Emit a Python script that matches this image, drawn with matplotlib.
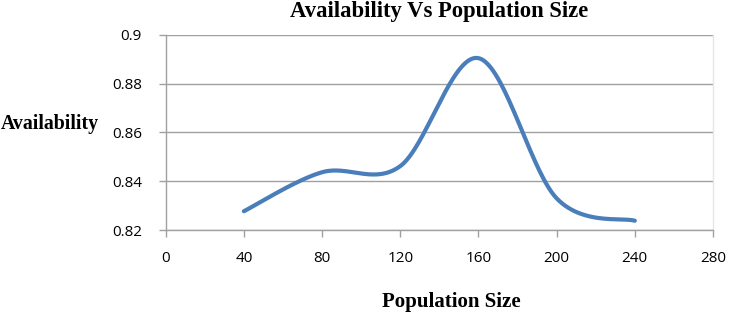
import numpy as np
import matplotlib
matplotlib.use("Agg")
import matplotlib.pyplot as plt

# Data
population_size = [40, 80, 120, 160, 200, 240]
availability = [0.8277, 0.8437, 0.8462, 0.8905, 0.8330, 0.8238]
x_ticks = [0, 40, 80, 120, 160, 200, 240, 280]
y_ticks = [0.82, 0.84, 0.86, 0.88, 0.9]
y_tick_labels = ["0.82", "0.84", "0.86", "0.88", "0.9"]


def smooth_curve(xs, ys, n=60):
    """Excel-like smoothed line: cubic Bezier with Catmull-Rom control points."""
    xs = np.asarray(xs, float)
    ys = np.asarray(ys, float)
    pts = np.column_stack([xs, ys])
    out = []
    m = len(pts)
    for i in range(m - 1):
        p0 = pts[i - 1] if i > 0 else pts[i]
        p1 = pts[i]
        p2 = pts[i + 1]
        p3 = pts[i + 2] if i + 2 < m else pts[i + 1]
        c1 = p1 + (p2 - p0) / 6.0
        c2 = p2 - (p3 - p1) / 6.0
        t = np.linspace(0, 1, n)[:, None]
        seg = ((1 - t) ** 3) * p1 + 3 * ((1 - t) ** 2) * t * c1 + 3 * (1 - t) * t ** 2 * c2 + t ** 3 * p2
        out.append(seg if i == 0 else seg[1:])
    arr = np.vstack(out)
    return arr[:, 0], arr[:, 1]


fig = plt.figure(figsize=(7.3, 3.2), dpi=100)
ax = fig.add_axes([0.227, 0.28125, 0.7497, 0.6094])

sx, sy = smooth_curve(population_size, availability)
ax.plot(sx, sy, color="#4a7ebb", linewidth=3.0, solid_capstyle="round", zorder=3)

ax.set_xlim(0, 280)
ax.set_ylim(0.82, 0.9)
ax.set_xticks(x_ticks)
ax.set_xticklabels([str(v) for v in x_ticks])
ax.set_yticks(y_ticks)
ax.set_yticklabels(y_tick_labels)

grid_color = "#a0a0a0"
ax.yaxis.grid(True, color=grid_color, linewidth=1.0)
ax.set_axisbelow(True)
ax.spines["top"].set_visible(False)
ax.spines["right"].set_color("#e6e6e6")
ax.spines["right"].set_linewidth(1.0)
ax.spines["left"].set_color(grid_color)
ax.spines["bottom"].set_color(grid_color)
ax.spines["left"].set_linewidth(1.0)
ax.spines["bottom"].set_linewidth(1.0)

ax.tick_params(axis="both", direction="out", length=5, width=1, color=grid_color,
               labelsize=11, labelcolor="black")
ax.tick_params(axis="y", pad=12)
ax.tick_params(axis="x", pad=10)
for lab in ax.get_xticklabels() + ax.get_yticklabels():
    lab.set_fontfamily("Open Sans")

serif = "Liberation Serif"
fig.text(439 / 730, 1 - 16.5 / 320, "Availability Vs Population Size", ha="center", va="baseline",
         fontsize=16.3, fontweight="bold", family=serif)
fig.text(1 / 730, 1 - 129 / 320, "Availability", ha="left", va="baseline",
         fontsize=14.3, fontweight="bold", family=serif)
fig.text(451 / 730, 1 - 306.5 / 320, "Population Size", ha="center", va="baseline",
         fontsize=15, fontweight="bold", family=serif)

fig.savefig("out.png", dpi=100)
